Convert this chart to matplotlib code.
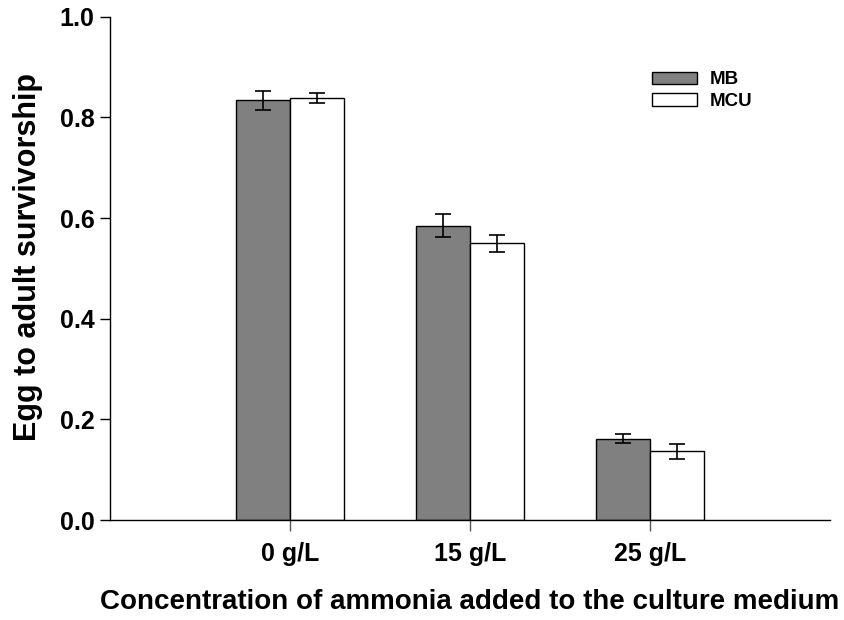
import numpy as np
import matplotlib
matplotlib.use('Agg')
import matplotlib.pyplot as plt

plt.rcParams['font.family'] = ['Liberation Sans', 'DejaVu Sans']
plt.rcParams['font.weight'] = 'bold'

# data
concentrations = ['0 g/L', '15 g/L', '25 g/L']
mb_mean = [0.834, 0.585, 0.162]
mb_err = [0.019, 0.023, 0.009]
mcu_mean = [0.839, 0.550, 0.137]
mcu_err = [0.010, 0.017, 0.015]

x = np.arange(1, len(concentrations) + 1)
width = 0.3

fig = plt.figure(figsize=(8.45, 6.2), dpi=100)
ax = fig.add_axes([0.130, 0.161, 0.852, 0.812])

err_kw = dict(ecolor='black', elinewidth=1.2, capsize=6, capthick=1.2)
ax.bar(x - width / 2, mb_mean, width, yerr=mb_err, color='#808080',
       edgecolor='black', linewidth=1, label='MB', error_kw=err_kw)
ax.bar(x + width / 2, mcu_mean, width, yerr=mcu_err, color='white',
       edgecolor='black', linewidth=1, label='MCU', error_kw=err_kw)

ax.set_xlim(0, 4)
ax.set_ylim(0, 1.0)
ax.set_xticks(x)
ax.set_xticklabels(concentrations, fontsize=18, fontweight='bold')
ax.set_yticks([0.0, 0.2, 0.4, 0.6, 0.8, 1.0])
ax.set_yticklabels(['0.0', '0.2', '0.4', '0.6', '0.8', '1.0'], fontsize=18, fontweight='bold')
ax.tick_params(axis='y', direction='out', length=7, width=1, pad=4)
ax.tick_params(axis='x', direction='out', length=8, width=1, color='#555555', pad=8)

ax.spines['top'].set_visible(False)
ax.spines['right'].set_visible(False)
ax.spines['left'].set_linewidth(1)
ax.spines['bottom'].set_linewidth(1)

ax.set_xlabel('Concentration of ammonia added to the culture medium',
              fontsize=20, fontweight='bold', labelpad=16)
ax.set_ylabel('Egg to adult survivorship', fontsize=22, fontweight='bold')
ax.yaxis.set_label_coords(-0.093, 0.523)

leg = ax.legend(loc='upper left', bbox_to_anchor=(0.729, 0.925), frameon=False,
                fontsize=13.5, handlelength=2.4, handleheight=0.65, labelspacing=0.25,
                handletextpad=0.7)
for t in leg.get_texts():
    t.set_fontweight('bold')

fig.savefig('out.png', dpi=100)
